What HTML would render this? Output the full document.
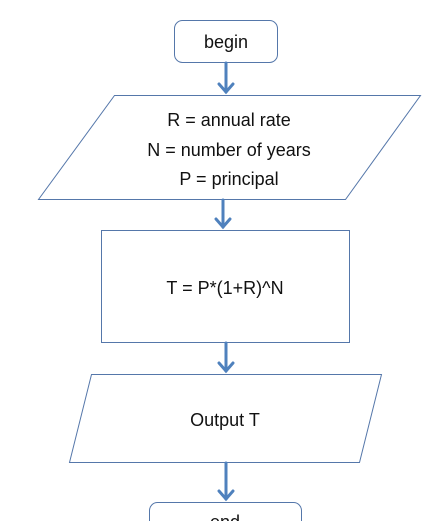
<!DOCTYPE html>
<html><head><style>
html,body{margin:0;padding:0;background:#fff;width:426px;height:521px;overflow:hidden}
text{font-family:"Liberation Sans",sans-serif;font-size:18px;fill:#111}
</style></head><body>
<svg width="426" height="521" xmlns="http://www.w3.org/2000/svg">
<g fill="#fff" stroke="#5577aa" stroke-width="1">
<rect x="174.5" y="20.5" width="103" height="42" rx="8"/>
<polygon points="114.5,95.5 420.5,95.5 345.5,199.5 38.5,199.5"/>
<rect x="101.5" y="230.5" width="248" height="112"/>
<polygon points="91.5,374.5 381.5,374.5 359.5,462.5 69.5,462.5"/>
<rect x="149.5" y="502.5" width="152" height="40" rx="8"/>
</g>
<g stroke="#4f81bd" stroke-width="3" fill="none" stroke-linecap="round">
<line x1="226" y1="63" x2="226" y2="92"/><polyline points="219,84 226,92 233,84"/>
<line x1="223" y1="200" x2="223" y2="227"/><polyline points="216,219 223,227 230,219"/>
<line x1="226" y1="343" x2="226" y2="371"/><polyline points="219,363 226,371 233,363"/>
<line x1="226" y1="463" x2="226" y2="499"/><polyline points="219,491 226,499 233,491"/>
</g>
<g text-anchor="middle">
<text x="226" y="48">begin</text>
<text x="229" y="126">R = annual rate</text>
<text x="229" y="156">N = number of years</text>
<text x="229" y="185">P = principal</text>
<text x="225" y="294">T = P*(1+R)^N</text>
<text x="225" y="426">Output T</text>
<text x="225" y="528">end</text>
</g>
</svg>
</body></html>
